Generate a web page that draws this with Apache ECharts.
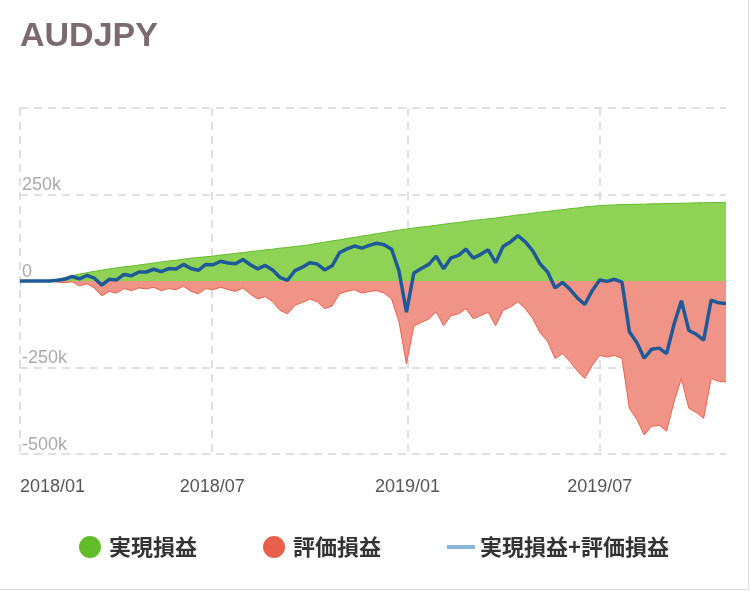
<!DOCTYPE html>
<html><head><meta charset="utf-8">
<script src="https://cdn.jsdelivr.net/npm/echarts@6/dist/echarts.min.js"></script>
<style>html,body{margin:0;padding:0;background:#fff}#c{width:748px;height:589px;border-right:1px solid #ddd;border-bottom:1px solid #ddd}</style>
</head><body><div id="c"></div>
<script>
const startDate = '2018-01-01';
const weeks = 96;
const realized = [0,0,0,0,0, 5,10,15,20,24,28,31,35,
38,41,43,46,49,52,55,58,60,63,66,68,70,72,
75,77,80,82,85,87,90,92,95,97,100,102,105,
109,112,116,119,123,126,130,133,137,140,144,147,150,
153,156,158,161,164,167,169,172,175,177,180,182,185,
188,191,193,196,199,201,204,206,209,211,214,216,218,
219,220,221,221,222,222,223,223,224,224,225,225,226,226,227,227,227];
const unrealized = [0,0,0,0,0,-3,-5,-2,-14,-8,-20,-43,-30,-35,-22,-28,-20,-23,-18,-28,-22,-25,-15,-30,-37,-22,-25,-18,-25,-30,-20,-38,-52,-45,-60,-85,-95,-70,-62,-52,-60,-80,-72,-37,-30,-25,-35,-30,-28,-35,-52,-118,-240,-130,-120,-110,-89,-129,-100,-95,-80,-109,-100,-90,-129,-85,-75,-60,-80,-109,-150,-175,-224,-210,-233,-260,-282,-244,-215,-220,-215,-224,-368,-400,-445,-420,-417,-434,-350,-282,-368,-380,-397,-282,-290,-292];
const tickDates = ['2018-01-01','2018-07-01','2019-01-01','2019-07-01'];
const tickLabels = ['2018/01','2018/07','2019/01','2019/07'];

const t0 = new Date(startDate + 'T00:00:00Z').getTime();
const dates = [];
for (let i = 0; i < weeks; i++) dates.push(t0 + i * 7 * 86400000);
const ticks = tickDates.map(d => new Date(d + 'T00:00:00Z').getTime());
const pair = arr => arr.map((v, i) => [dates[i], v * 1000]);
const total = realized.map((v, i) => v + unrealized[i]);

const chart = echarts.init(document.getElementById('c'));
chart.setOption({
  animation: false,
  title: {text: 'AUDJPY', left: 15, top: 15, textStyle: {fontSize: 34, fontWeight: 'bold', color: '#7b6b70', fontFamily: 'Liberation Sans'}},
  legend: {bottom: 26, left: 'center', itemGap: 66, itemWidth: 28, itemHeight: 22,
    textStyle: {fontSize: 22, fontWeight: 'bold', color: '#333', fontFamily: 'Noto Sans CJK JP'},
    data: [{name: '実現損益', icon: 'circle', itemStyle: {color: '#62bd2a'}},
           {name: '評価損益', icon: 'circle', itemStyle: {color: '#e8604c'}},
           {name: '実現損益+評価損益', icon: 'path://M0,9H28V13H0Z', itemStyle: {color: '#8ab4dc'}}]},
  grid: {left: 20, right: 22, top: 108, bottom: 135},
  xAxis: {type: 'value', min: t0, max: dates[dates.length - 1],
    axisLine: {lineStyle: {color: '#c8d0dc', width: 2}},
    axisTick: {show: true, customValues: ticks, length: 6, lineStyle: {color: '#c8d0dc'}},
    axisLabel: {customValues: ticks, fontSize: 18, color: '#555', margin: 24,
      formatter: v => tickLabels[ticks.indexOf(v)] || '',
      alignMinLabel: 'left'},
    splitLine: {show: true, lineStyle: {type: [8, 6], color: '#d6d6d6', width: 1.5}}},
  yAxis: {type: 'value', min: -500000, max: 500000, interval: 250000,
    axisLine: {show: false}, axisTick: {show: false},
    axisLabel: {inside: true, verticalAlign: 'bottom', margin: 2, fontSize: 18, color: '#aaa',
      formatter: v => v === 500000 ? '' : (v === 0 ? '0' : (v / 1000) + 'k')},
    splitLine: {lineStyle: {type: [8, 6], color: '#d6d6d6', width: 1.5}}},
  series: [
    {name: '実現損益', type: 'line', data: pair(realized), showSymbol: false, symbol: 'none',
      lineStyle: {color: '#62bd2a', width: 1}, itemStyle: {color: '#62bd2a'}, areaStyle: {color: '#8ed256', opacity: 1}},
    {name: '評価損益', type: 'line', data: pair(unrealized), showSymbol: false, symbol: 'none',
      lineStyle: {color: '#e8604c', width: 1}, itemStyle: {color: '#e8604c'}, areaStyle: {color: '#f09488', opacity: 1}},
    {name: '実現損益+評価損益', type: 'line', data: pair(total), showSymbol: false, symbol: 'none',
      lineStyle: {color: '#1e5a97', width: 3.5}, itemStyle: {color: '#8ab4dc'}}
  ]
});
</script></body></html>
